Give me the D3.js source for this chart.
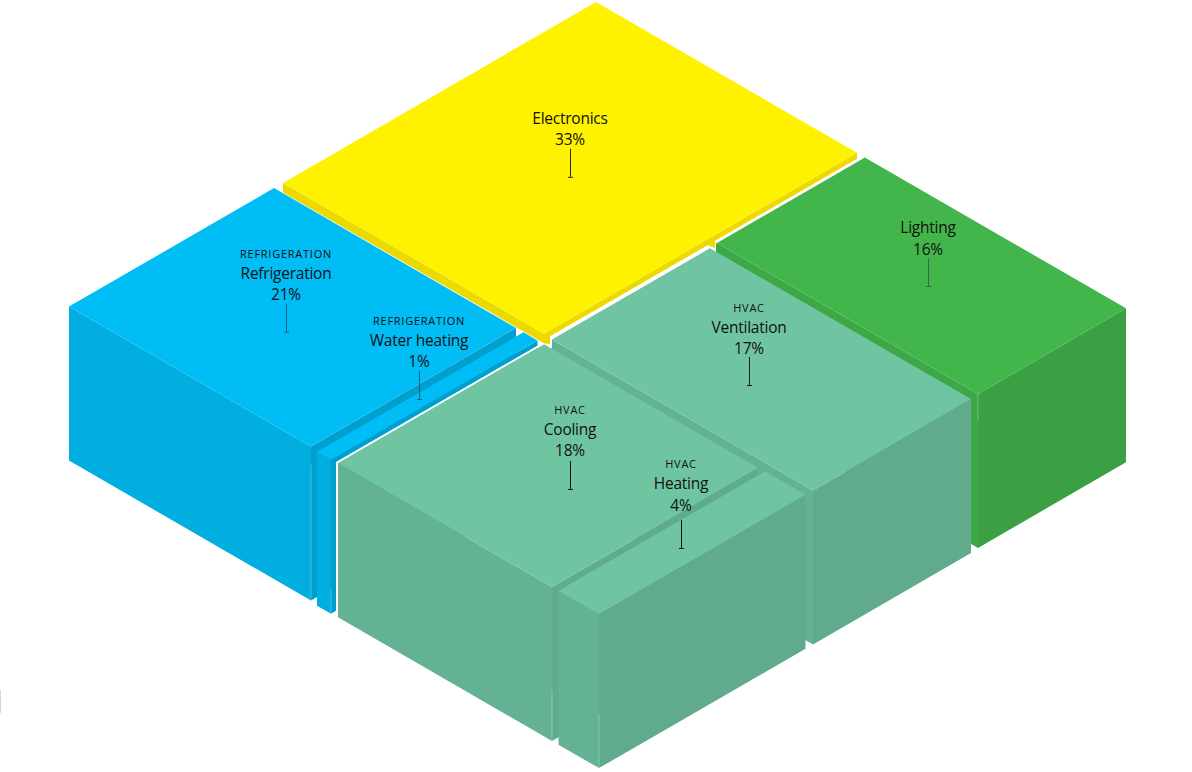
<!DOCTYPE html>
<html>
<head>
<meta charset="utf-8">
<script src="https://cdn.jsdelivr.net/npm/d3@7/dist/d3.min.js"></script>
<style>
html,body{margin:0;padding:0;background:#fff;overflow:hidden}
svg{display:block}
text{font-family:"Open Sans",sans-serif;text-anchor:middle;fill:#111}
</style>
</head>
<body>
<svg id="chart" width="1192" height="772"></svg>
<script>
// ---- data ----
const categories = ["Electronics","Lighting","Refrigeration","Water heating","Ventilation","Cooling","Heating"];
const groups     = ["","","REFRIGERATION","REFRIGERATION","HVAC","HVAC","HVAC"];
const shares     = [33,16,21,1,17,18,4];

// ---- floor plan of the isometric map, in plan units along the two axes ----
const planA0 = [0,268,0,249.5,269,270,490.5];
const planA1 = [261,530,242,263.5,531,484,531];
const planB0 = [0,0,322,322,156,322,321.5];
const planB1 = [313,148,527,528.5,314,528,528];
const labelA = [114,387.5,106,230.7,383.6,384,490.6];
const labelB = [140,55.5,416,407.7,230.6,410,405.6];
const labelLift = [0,0,0,0,-0.5,1,6];
const depthLeft  = [9.5,154,154,154,154,154,154];
const depthRight = [6,154,154,154,154,154,154];

// ---- styles ----
const topFill   = ["#fff200","#42b64b","#00bdf6","#00bdf6","#6fc5a1","#6fc5a1","#6fc5a1"];
const leftFill  = ["#ecd900","#3ca846","#00afdf","#00afdf","#63b293","#63b293","#63b293"];
const rightFill = ["#ecd900","#3ba043","#009fcd","#009fcd","#5fab8c","#5fab8d","#5fab8c"];
const leaderCol = ["#222","#2f6b4a","#0f5f7f","#0f5f7f","#1a1a1a","#111","#111"];

// ---- scales ----
const xScale = d3.scaleLinear().domain([-530,530]).range([66,1126]);
const yScale = d3.scaleLinear().domain([0,1100]).range([2,637.8]);
const depthScale = d3.scaleLinear().domain([0,154]).range([0,154]);
const project = (a,b,h=0) => [xScale(a-b), yScale(a+b)+depthScale(h)];
const line = d3.line();
const closed = pts => line(pts)+"Z";

const svg = d3.select("#chart");

const blocks = categories.map((name,i)=>({
  name, group:groups[i], share:shares[i], i,
  a0:planA0[i],a1:planA1[i],b0:planB0[i],b1:planB1[i],
  dl:depthLeft[i],dr:depthRight[i]
}));

const g = svg.selectAll("g.block").data(blocks).join("g").attr("class","block");
// left face: along a at b1
g.append("path").attr("fill",d=>leftFill[d.i]).attr("d",d=>closed([
  project(d.a0,d.b1),project(d.a1,d.b1),project(d.a1,d.b1,d.dl),project(d.a0,d.b1,d.dl)]));
// right face: along b at a1
g.append("path").attr("fill",d=>rightFill[d.i]).attr("d",d=>closed([
  project(d.a1,d.b0),project(d.a1,d.b1),project(d.a1,d.b1,d.dr),project(d.a1,d.b0,d.dr)]));
// top face
g.append("path").attr("fill",d=>topFill[d.i]).attr("d",d=>closed([
  project(d.a0,d.b0),project(d.a1,d.b0),project(d.a1,d.b1),project(d.a0,d.b1)]));

// small hanging tabs of the yellow block
const tabs = [
  [[261,142,5],[261,142,13],[261,150,5.5]],
  [[261,307,5],[261,307,14],[261,313,9.5],[261,313,4]]
];
g.filter(d=>d.i===0).selectAll("path.tab").data(tabs).join("path").attr("class","tab")
  .attr("fill",leftFill[0]).attr("d",d=>closed(d.map(p=>project(...p))));

// white outlines separating blocks
const outlines = [
  [[269,528,154],[269,528,0],[269,322,0]],
  [[269,314,9],[269,314,0],[269,156,0]],
  [[268,148,0],[268,0,0]]
];
svg.selectAll("path.outline").data(outlines).join("path").attr("class","outline")
  .attr("fill","none").attr("stroke","#fff").attr("stroke-width",2)
  .attr("d",d=>line(d.map(p=>project(...p))));

// faint highlights on the vertical corners
const glintData = [
  {a:242,b:527,h0:18,h1:154},
  {a:263.5,b:528.5,h0:130,h1:154},
  {a:484,b:528,h0:103,h1:154},
  {a:531,b:528,h0:100,h1:154},
  {a:530,b:148,h0:0,h1:27}
];
svg.selectAll("path.glint").data(glintData).join("path").attr("class","glint")
  .attr("fill","none").attr("stroke","#fff").attr("stroke-opacity",.28).attr("stroke-width",1)
  .attr("d",d=>line([project(d.a,d.b,d.h0),project(d.a,d.b,d.h1)]));

// labels and leaders
const leaderLen = 28;
const lab = svg.selectAll("g.lab").data(blocks).join("g").attr("class","lab")
  .attr("transform",d=>{const p=project(labelA[d.i],labelB[d.i]);return `translate(${p[0]},${p[1]})`;});
lab.append("path").attr("fill","none").attr("stroke",d=>leaderCol[d.i]).attr("stroke-width",1)
  .attr("d",`M0.5,0V${leaderLen}M-2,${leaderLen+.5}H3`);
lab.append("text").attr("y",d=>-3.5-labelLift[d.i]).attr("font-size",15.5).attr("letter-spacing","-0.2").text(d=>d.share+"%");
lab.append("text").attr("y",d=>-25-labelLift[d.i]).attr("font-size",15.5).attr("letter-spacing","-0.25").text(d=>d.name);
lab.append("text").attr("y",d=>-46-labelLift[d.i]).attr("font-size",11).attr("letter-spacing","0.75").text(d=>d.group);

// faint stray rule at the lower left edge
svg.append("path").attr("stroke","#d8d8d8").attr("stroke-width",1).attr("fill","none")
  .attr("d",line([[0.5,690],[0.5,713]]));
</script>
</body>
</html>
